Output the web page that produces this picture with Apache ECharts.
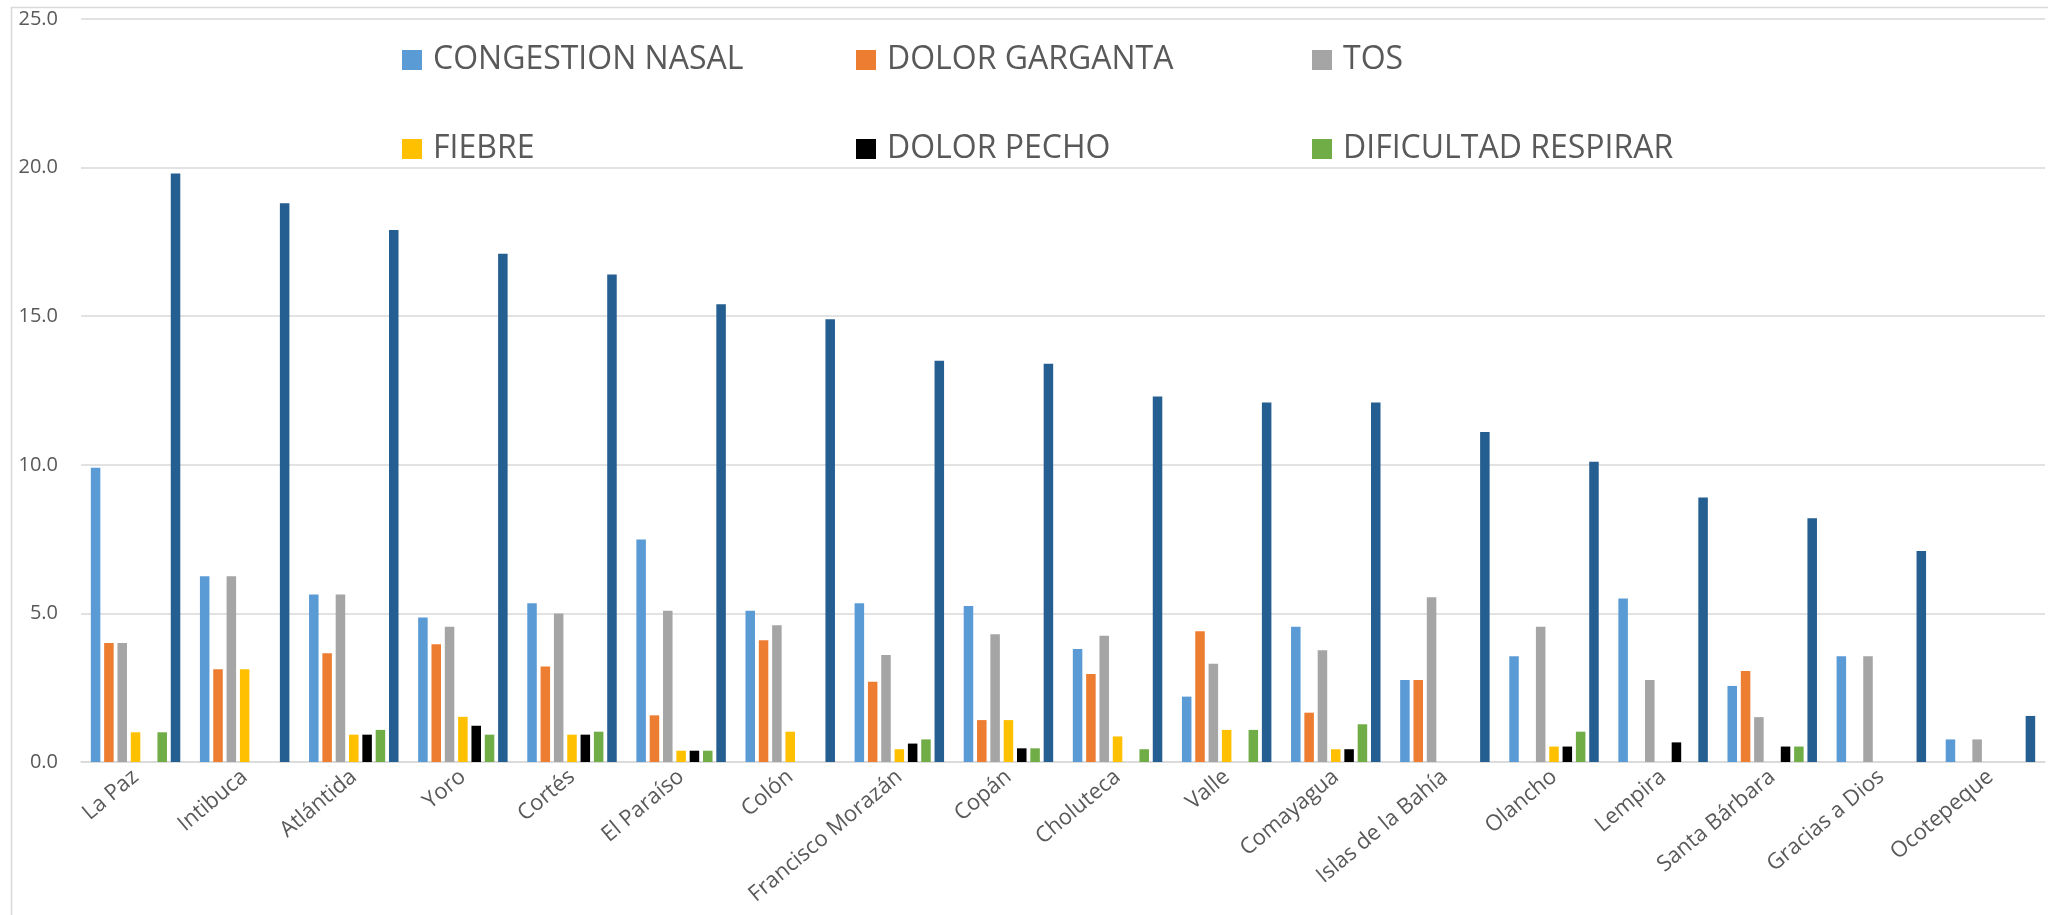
<!DOCTYPE html>
<html>
<head>
<meta charset="utf-8">
<script src="https://cdn.jsdelivr.net/npm/echarts@6/dist/echarts.min.js"></script>
<style>
  html, body { margin: 0; padding: 0; background: #fff; }
  #echart1 { width: 2048px; height: 915px; }
</style>
</head>
<body>
<div id="echart1"></div>
<script>
var categories = ['La Paz', 'Intibuca', 'Atlántida', 'Yoro', 'Cortés', 'El Paraíso', 'Colón',
  'Francisco Morazán', 'Copán', 'Choluteca', 'Valle', 'Comayagua', 'Islas de la Bahía',
  'Olancho', 'Lempira', 'Santa Bárbara', 'Gracias a Dios', 'Ocotepeque'];

var congestionNasal = [9.9, 6.25, 5.64, 4.86, 5.34, 7.49, 5.09, 5.34, 5.25, 3.8, 2.2, 4.55, 2.76, 3.56, 5.5, 2.56, 3.56, 0.76];
var dolorGarganta   = [4.0, 3.12, 3.66, 3.96, 3.21, 1.57, 4.1, 2.7, 1.41, 2.96, 4.4, 1.66, 2.76, 0, 0, 3.06, 0, 0];
var tos             = [4.0, 6.25, 5.64, 4.55, 5.0, 5.09, 4.6, 3.6, 4.3, 4.25, 3.31, 3.76, 5.54, 4.55, 2.76, 1.51, 3.56, 0.76];
var fiebre          = [1.0, 3.12, 0.92, 1.52, 0.92, 0.38, 1.02, 0.43, 1.41, 0.86, 1.08, 0.43, 0, 0.52, 0, 0, 0, 0];
var dolorPecho      = [0, 0, 0.92, 1.22, 0.92, 0.38, 0, 0.62, 0.46, 0, 0, 0.43, 0, 0.52, 0.66, 0.52, 0, 0];
var dificultad      = [1.0, 0, 1.08, 0.92, 1.02, 0.38, 0, 0.76, 0.46, 0.43, 1.08, 1.27, 0, 1.02, 0, 0.52, 0, 0];
var total           = [19.8, 18.8, 17.9, 17.1, 16.4, 15.4, 14.9, 13.5, 13.4, 12.3, 12.1, 12.1, 11.1, 10.1, 8.9, 8.2, 7.1, 1.55];

var yTicks = [0, 5, 10, 15, 20, 25];

function echart1(){

  var seriesNames = ['CONGESTION NASAL', 'DOLOR GARGANTA', 'TOS', 'FIEBRE', 'DOLOR PECHO', 'DIFICULTAD RESPIRAR', 'TOTAL'];
  var seriesData = [congestionNasal, dolorGarganta, tos, fiebre, dolorPecho, dificultad, total];
  var colors = ['#5B9BD5', '#ED7D31', '#A5A5A5', '#FFC000', '#000000', '#70AD47', '#255E91'];

  var chartdata = seriesNames.map(function(n, i){
    return {
      name: n,
      type: 'bar',
      data: seriesData[i],
      itemStyle: { color: colors[i] },
      barGap: '40%',
      barCategoryGap: '18%'
    };
  });

  var legendText = {
    fontFamily: 'Open Sans',
    fontSize: 32,
    lineHeight: 32,
    color: '#595959',
    padding: [0, 0, 0, 6]
  };

  function col(left, names){
    return {
      orient: 'vertical',
      left: left,
      top: 44,
      padding: 0,
      itemGap: 57,
      itemWidth: 20,
      itemHeight: 20,
      icon: 'rect',
      selectedMode: false,
      textStyle: legendText,
      data: names
    };
  }

  var chart = document.getElementById('echart1');
  var barChart = echarts.init(chart);

  var option = {
    backgroundColor: '#fff',
    animation: false,
    graphic: [{
      type: 'rect',
      left: 9,
      top: 5,
      shape: { width: 2100, height: 1000 },
      style: { fill: 'none', stroke: '#d9d9d9', lineWidth: 1.5 }
    }],
    legend: [
      col(402, ['CONGESTION NASAL', 'FIEBRE']),
      col(856, ['DOLOR GARGANTA', 'DOLOR PECHO']),
      col(1312, ['TOS', 'DIFICULTAD RESPIRAR'])
    ],
    grid: {
      top: 19,
      right: 3,
      bottom: 153,
      left: 81
    },
    xAxis: {
      type: 'category',
      data: categories,
      axisLine: {
        lineStyle: {
          color: '#d9d9d9',
          width: 1.5
        }
      },
      axisTick: { show: false },
      axisLabel: {
        rotate: 40,
        margin: 12,
        interval: 0,
        fontFamily: 'Open Sans',
        fontSize: 22,
        color: '#595959'
      }
    },
    yAxis: {
      type: 'value',
      min: yTicks[0],
      max: yTicks[yTicks.length - 1],
      interval: yTicks[1] - yTicks[0],
      splitLine: {
        lineStyle: {
          color: '#d9d9d9',
          width: 1.5
        }
      },
      axisLine: { show: false },
      axisTick: { show: false },
      axisLabel: {
        margin: 23,
        fontFamily: 'Open Sans',
        fontSize: 20,
        color: '#595959',
        formatter: function(v){ return v.toFixed(1); }
      }
    },
    series: chartdata
  };

  barChart.setOption(option);
  window.addEventListener('resize', function(){
    barChart.resize();
  });
}

echart1();
</script>
</body>
</html>
